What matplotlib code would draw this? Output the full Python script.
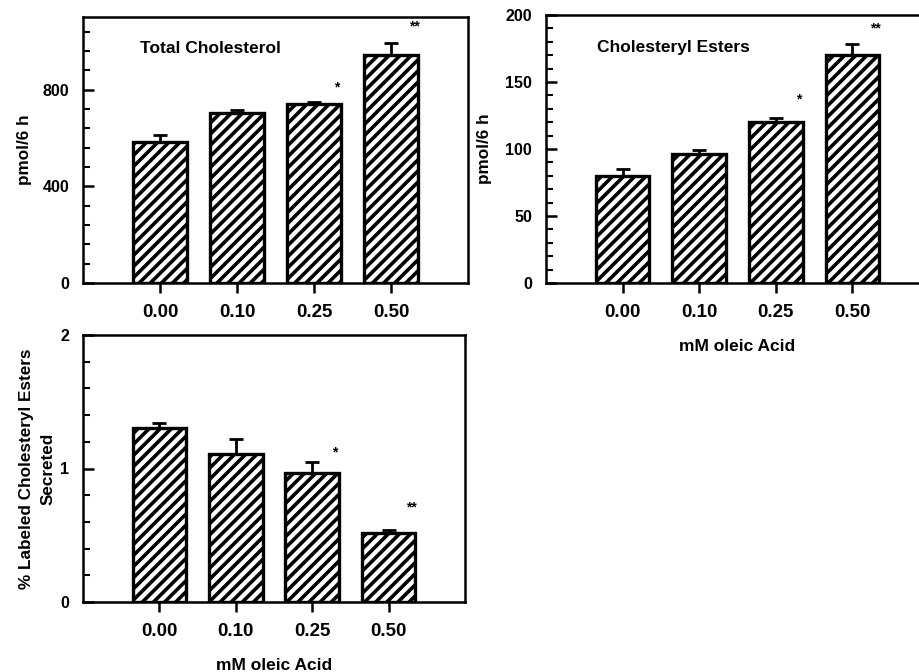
import numpy as np
import matplotlib
matplotlib.use("Agg")
import matplotlib.pyplot as plt
from matplotlib.ticker import MultipleLocator

# oleic acid concentrations (mM)
doses = ["0.00", "0.10", "0.25", "0.50"]

total_chol = [584, 701, 739, 944]
total_chol_err = [30, 15, 10, 50]
total_chol_sig = ["", "", "*", "**"]
total_chol_sig_y = [0, 0, 810, 1060]

chol_esters = [80, 96, 120, 170]
chol_esters_err = [5, 3, 3, 8]
chol_esters_sig = ["", "", "*", "**"]
chol_esters_sig_y = [0, 0, 137, 190]

labeled_ce = [1.30, 1.11, 0.97, 0.52]
labeled_ce_err = [0.04, 0.11, 0.08, 0.02]
labeled_ce_sig = ["", "", "*", "**"]
labeled_ce_sig_y = [0, 0, 1.12, 0.71]

plt.rcParams['font.family'] = ['Liberation Sans', 'DejaVu Sans']
plt.rcParams['font.weight'] = 'bold'
plt.rcParams['hatch.linewidth'] = 2.6
plt.rcParams['axes.linewidth'] = 1.8


def bar_panel(ax, vals, errs, sig, sig_y, ymax, major, minor, ylabel,
              title=None, title_x=0.15, xlabel=None):
    x = np.arange(len(doses))
    ax.bar(x, vals, width=0.7, color='white', edgecolor='black', linewidth=2.4,
           hatch='///', zorder=2)
    ax.errorbar(x, vals, yerr=[np.zeros(len(errs)), errs], fmt='none', ecolor='black',
                elinewidth=2, capsize=5, capthick=2, zorder=3)
    for xi, s, sy in zip(x, sig, sig_y):
        if s:
            ax.text(xi + 0.3, sy, s, ha='center', va='center', fontsize=10, fontweight='bold')
    ax.set_xlim(-1, 4)
    ax.set_ylim(0, ymax)
    ax.set_xticks(x)
    ax.set_xticklabels(doses)
    ax.yaxis.set_major_locator(MultipleLocator(major))
    ax.yaxis.set_minor_locator(MultipleLocator(minor))
    ax.tick_params(axis='y', which='major', direction='in', length=8, width=1.8, pad=10,
                   labelsize=11.5)
    ax.tick_params(axis='y', which='minor', direction='in', length=5, width=1.5)
    ax.tick_params(axis='x', which='major', direction='out', length=7, width=1.8, pad=8,
                   labelsize=13.5)
    ax.set_ylabel(ylabel, fontsize=12.3, fontweight='bold', linespacing=1.5)
    if title:
        ax.text(title_x, 0.88, title, transform=ax.transAxes, ha='left', va='center',
                fontsize=12.5, fontweight='bold')
    if xlabel:
        ax.set_xlabel(xlabel, fontsize=12.5, fontweight='bold')


fig = plt.figure(figsize=(9.19, 6.72), dpi=100)

ax1 = fig.add_axes([83 / 919, 1 - 283 / 672, 385 / 919, 266 / 672])
bar_panel(ax1, total_chol, total_chol_err, total_chol_sig, total_chol_sig_y,
          1100, 400, 80, "pmol/6 h", title="Total Cholesterol", title_x=0.147)
ax1.yaxis.set_label_coords(-0.132, 0.5)

ax2 = fig.add_axes([546 / 919, 1 - 283 / 672, 383 / 919, 268 / 672])
bar_panel(ax2, chol_esters, chol_esters_err, chol_esters_sig, chol_esters_sig_y,
          200, 50, 10, "pmol/6 h", title="Cholesteryl Esters", title_x=0.134,
          xlabel="mM oleic Acid")
ax2.yaxis.set_label_coords(-0.141, 0.5)
ax2.xaxis.set_label_coords(0.5, -0.21)

ax3 = fig.add_axes([83 / 919, 1 - 602 / 672, 382 / 919, 267 / 672])
bar_panel(ax3, labeled_ce, labeled_ce_err, labeled_ce_sig, labeled_ce_sig_y,
          2, 1, 0.2, "% Labeled Cholesteryl Esters\nSecreted", xlabel="mM oleic Acid")
ax3.yaxis.set_label_coords(-0.072, 0.5)
ax3.xaxis.set_label_coords(0.5, -0.21)

fig.savefig("out.png", dpi=100)
